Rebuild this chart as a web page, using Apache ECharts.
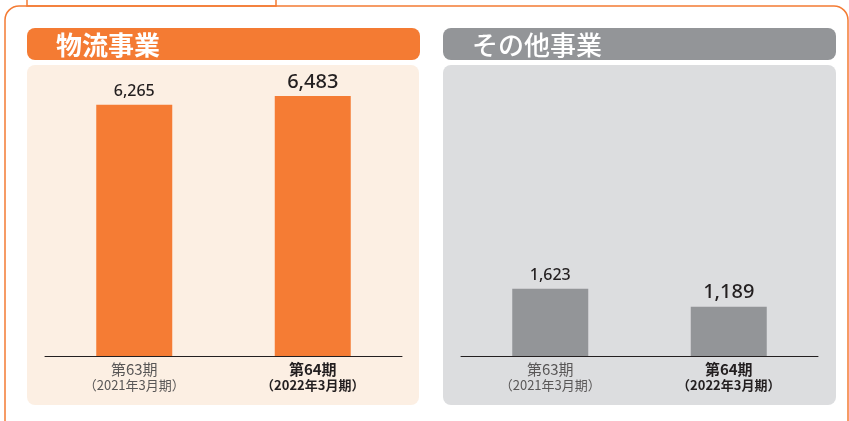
<!DOCTYPE html>
<html>
<head>
<meta charset="utf-8">
<script src="https://cdn.jsdelivr.net/npm/echarts@6/dist/echarts.min.js"></script>
<style>
  html, body { margin: 0; padding: 0; background: #ffffff; }
  #chart { width: 849px; height: 421px; }
</style>
</head>
<body>
<div id="chart"></div>
<script>
const periods = ['第63期', '第64期'];
const fiscalYears = ['（2021年3月期）', '（2022年3月期）'];
const logisticsValues = [6265, 6483];
const otherValues = [1623, 1189];
const panelTitles = ['物流事業', 'その他事業'];

const FONT = "'Noto Sans CJK JP', 'Noto Sans', sans-serif";
const NUM_FONT = "'Noto Sans', 'Open Sans', sans-serif";
const orange = '#f47b33';
const grey = '#939598';

const fmt = (v) => Number(v).toLocaleString('en-US');

const makeData = (values) =>
  values.map((v, i) => ({
    value: v,
    label: i === 1
      ? { fontSize: 20, fontWeight: 500, color: '#231f20', distance: 4 }
      : { fontSize: 16, fontWeight: 500, color: '#231f20', distance: 5 },
  }));

const catAxis = (gridIndex) => ({
  type: 'category',
  gridIndex,
  data: periods,
  z: 10,
  axisTick: { show: false },
  axisLine: { lineStyle: { color: '#231f20', width: 1 } },
  axisLabel: {
    margin: 4,
    interval: 0,
    fontFamily: FONT,
    formatter: (value) => {
      const i = periods.indexOf(value);
      return i === 1
        ? `{b1|${periods[i]}}\n{b2|${fiscalYears[i]}}`
        : `{a1|${periods[i]}}\n{a2|${fiscalYears[i]}}`;
    },
    rich: {
      a1: { fontSize: 15, color: '#595757', lineHeight: 18, fontFamily: FONT },
      a2: { fontSize: 13, color: '#595757', lineHeight: 15, fontFamily: FONT },
      b1: { fontSize: 15, color: '#231f20', fontWeight: 'bold', lineHeight: 18, fontFamily: FONT },
      b2: { fontSize: 13, color: '#231f20', fontWeight: 'bold', lineHeight: 15, fontFamily: FONT },
    },
  },
});

const valAxis = (gridIndex, max) => ({
  type: 'value',
  gridIndex,
  min: 0,
  max,
  axisLabel: { show: false },
  axisLine: { show: false },
  axisTick: { show: false },
  splitLine: { show: false },
});

const barSeries = (idx, values, color) => ({
  type: 'bar',
  xAxisIndex: idx,
  yAxisIndex: idx,
  data: makeData(values),
  barWidth: 76,
  itemStyle: { color },
  label: {
    show: true,
    position: 'top',
    fontFamily: NUM_FONT,
    formatter: (p) => fmt(p.value),
  },
  z: 5,
});

const option = {
  backgroundColor: '#ffffff',
  animation: false,
  graphic: [
    // outer orange frame
    {
      type: 'rect', z: -20,
      shape: { x: 5, y: 6, width: 843, height: 440, r: 14 },
      style: { fill: '#ffffff', stroke: orange, lineWidth: 1.5 },
    },
    // small box above
    {
      type: 'polyline', z: -19,
      shape: { points: [[27, -2], [27, 6], [276, 6], [276, -2]] },
      style: { fill: null, stroke: orange, lineWidth: 1.5 },
    },
    // left panel
    {
      type: 'rect', z: -19,
      shape: { x: 27, y: 65, width: 392, height: 340, r: 8 },
      style: { fill: '#fcefe3' },
    },
    {
      type: 'rect', z: -19,
      shape: { x: 27, y: 28, width: 393, height: 32, r: 8 },
      style: { fill: orange },
    },
    {
      type: 'text', z: -18,
      style: {
        text: panelTitles[0], x: 56, y: 45, verticalAlign: 'middle',
        fill: '#ffffff', font: `bold 26px ${FONT}`,
      },
    },
    // right panel
    {
      type: 'rect', z: -19,
      shape: { x: 443, y: 65, width: 393, height: 340, r: 8 },
      style: { fill: '#dcdddf' },
    },
    {
      type: 'rect', z: -19,
      shape: { x: 443, y: 28, width: 393, height: 32, r: 8 },
      style: { fill: grey },
    },
    {
      type: 'text', z: -18,
      style: {
        text: panelTitles[1], x: 472, y: 45, verticalAlign: 'middle',
        fill: '#ffffff', font: `500 26px ${FONT}`,
      },
    },
  ],
  grid: [
    { left: 45, right: 447, top: 56, bottom: 65 },
    { left: 461, right: 31, top: 56, bottom: 65 },
  ],
  xAxis: [catAxis(0), catAxis(1)],
  yAxis: [valAxis(0, 7480), valAxis(1, 7230)],
  series: [
    barSeries(0, logisticsValues, '#f57c34'),
    barSeries(1, otherValues, '#939598'),
  ],
};

const chart = echarts.init(document.getElementById('chart'));
chart.setOption(option);
</script>
</body>
</html>
